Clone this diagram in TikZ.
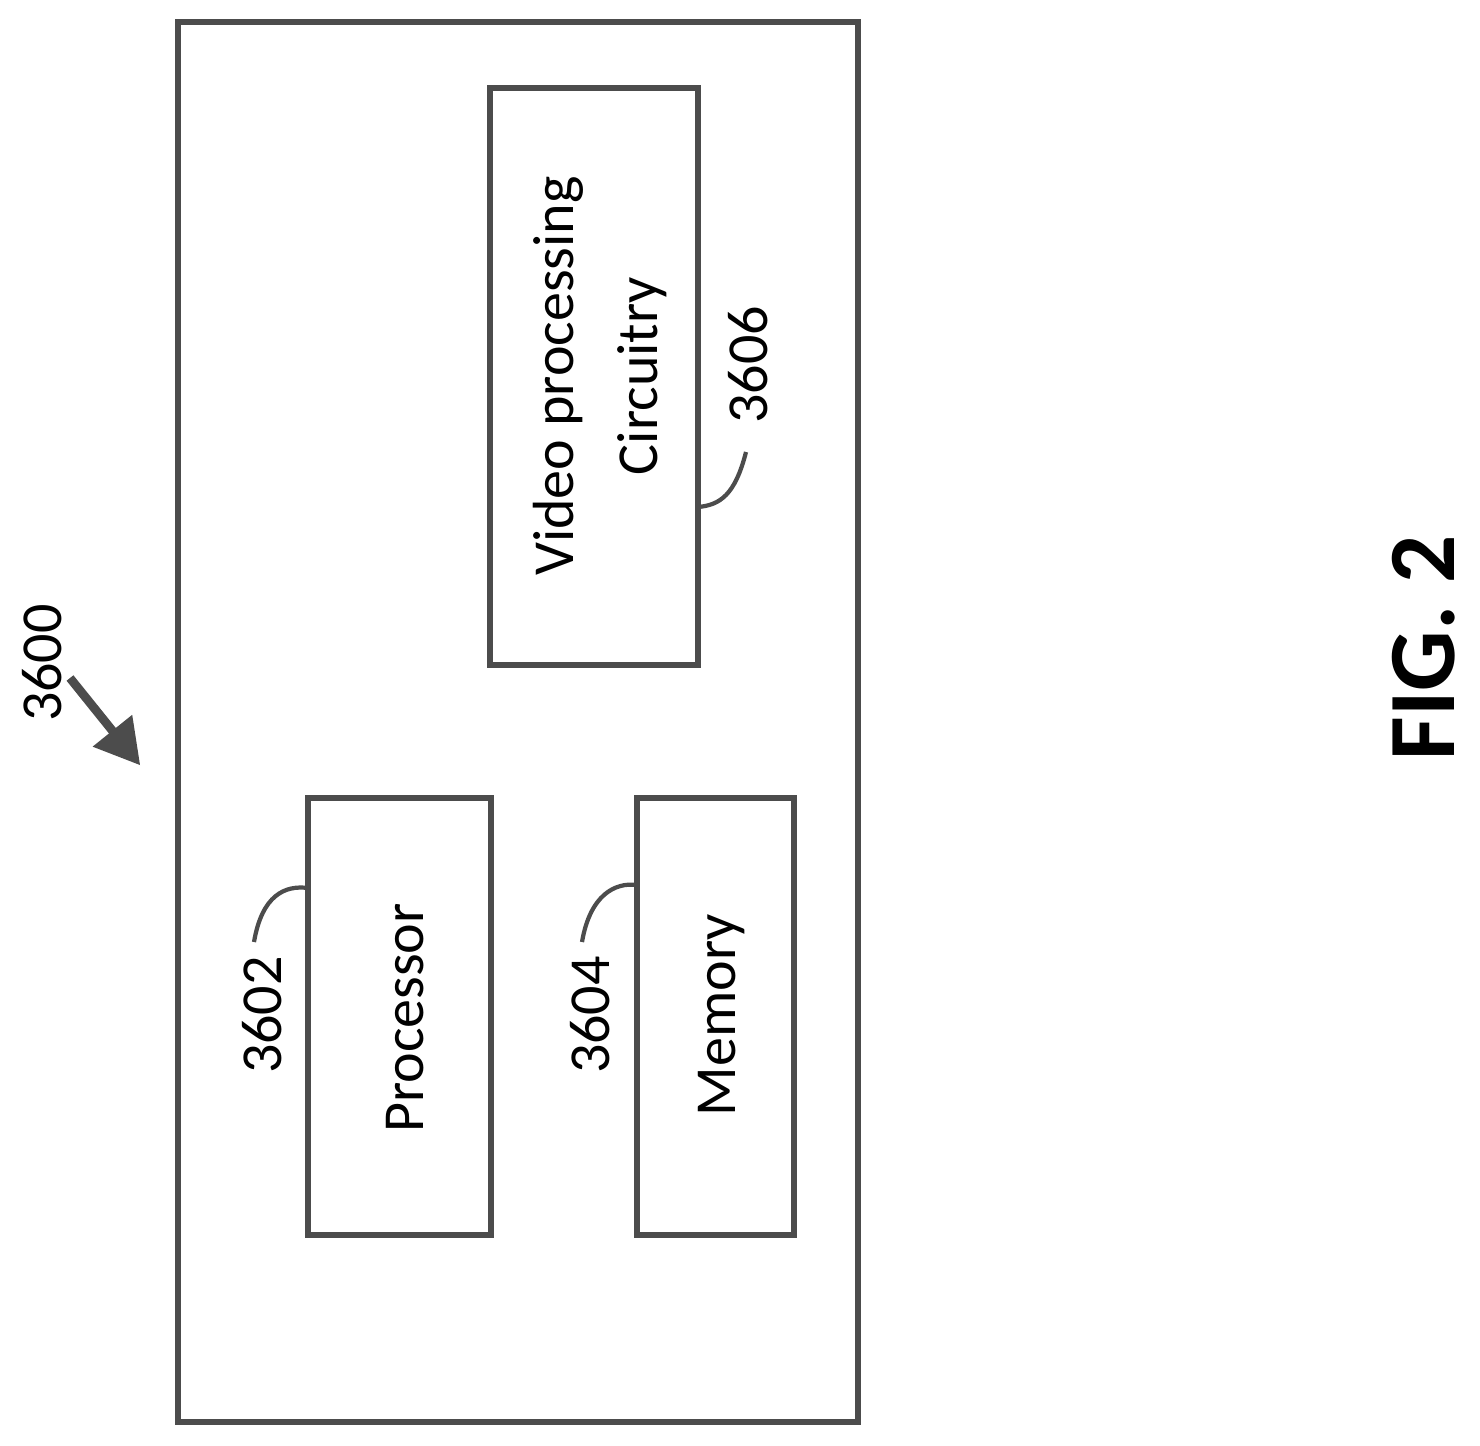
\documentclass[tikz,border=0pt]{standalone}
\usepackage{fontspec}
\setmainfont{Carlito}
\usetikzlibrary{arrows}
\tikzset{
  block/.style={draw=black!70, line width=1.6pt},
  lbl/.style={rotate=90, font=\fontsize{16.5}{24}\selectfont},
  leader/.style={draw=black!70, line width=1.2pt}
}
\begin{document}
\begin{tikzpicture}[x=0.01cm, y=-0.01cm]
  \useasboundingbox (0,0) rectangle (1480,1445);

  % outer device
  \draw[block] (178,22) rectangle (858,1422);

  % blocks
  \draw[block] (490,88) rectangle (698,665);
  \draw[block] (308,798) rectangle (491,1235);
  \draw[block] (637,798) rectangle (794,1235);

  \node[lbl, align=center] (video) at (600,376) {Video processing\\Circuitry};
  \node[lbl] (proc) at (405,1018) {Processor};
  \node[lbl] (mem) at (722,1015) {Memory};

  % reference numerals
  \node[lbl] (n3602) at (262,1015) {3602};
  \node[lbl] (n3604) at (590,1015) {3604};
  \node[lbl] (n3606) at (748,365) {3606};
  \node[lbl] (n3600) at (42,663) {3600};
  \node[rotate=90, font=\bfseries\fontsize{27}{32}\selectfont] (fig) at (1424,648) {FIG. 2};

  \draw[leader] (254,942) .. controls (262,895) and (285,885) .. (308,888);
  \draw[leader] (582,942) .. controls (590,895) and (615,882) .. (637,885);
  \draw[leader] (746,452) .. controls (735,495) and (720,505) .. (698,507);
  \draw[leader, line width=2.5pt, -triangle 60] (70,678) -- (140,765);
\end{tikzpicture}
\end{document}
